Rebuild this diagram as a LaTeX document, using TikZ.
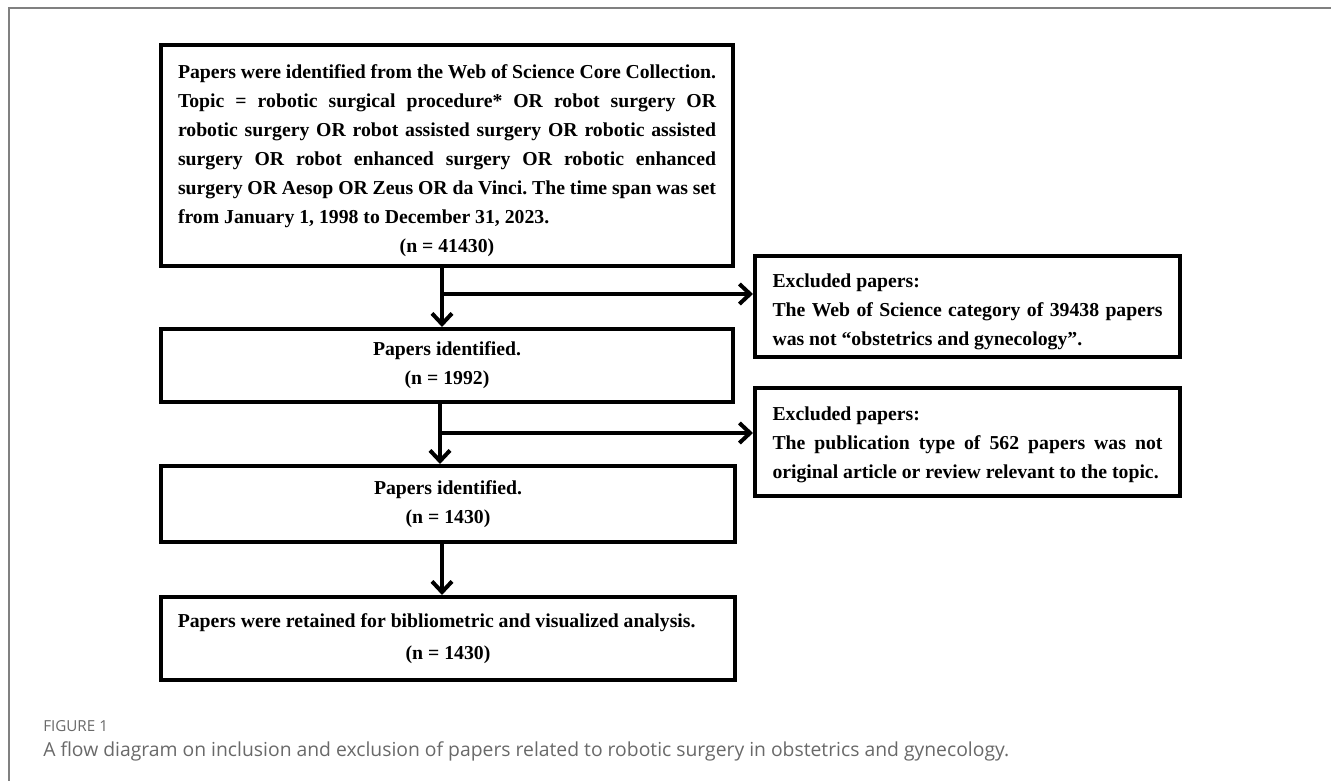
\documentclass[tikz,border=0pt]{standalone}
\usepackage{fontspec}
\setmainfont{Liberation Serif}
\newfontfamily\legende{Open Sans}
\usetikzlibrary{arrows.meta,calc}
\definecolor{cadre}{RGB}{128,128,128}
\definecolor{gristexte}{RGB}{105,105,105}
\frenchspacing

\begin{document}
\begin{tikzpicture}[x=0.75pt,y=-0.75pt,
	boite/.style={draw,line width=3pt,inner sep=0pt,font=\bfseries\fontsize{14.8}{21.75}\selectfont},
	fleche/.style={line width=3pt,-{Straight Barb[length=8pt,width=15pt]}}]
		\useasboundingbox (0,0) rectangle (1331,781);
		% cadre de la figure
		\draw[cadre,line width=1.5pt] (1331,8.5) -- (8.5,8.5) -- (8.5,781);
		% boites principales
		\node[boite,minimum width=429pt,minimum height=165.75pt,text width=403.5pt,align=justify] (search) at (447,155.5)
			{\rule{0pt}{18pt}Papers were identified from the Web of Science Core Collection.\linebreak
			Topic = robotic surgical procedure* OR robot surgery OR\linebreak
			robotic surgery OR robot assisted surgery OR robotic assisted\linebreak
			surgery OR robot enhanced surgery OR robotic enhanced\linebreak
			surgery OR Aesop OR Zeus OR da Vinci. The time span was set\linebreak
			from January 1, 1998 to December 31, 2023.\par
			\centerline{(n = 41430)}};
		\node[boite,minimum width=429pt,minimum height=54.75pt,align=center] (ident1) at (447,365.5)
			{Papers identified.\\(n = 1992)};
		\node[boite,minimum width=430.5pt,minimum height=57pt,align=center] (ident2) at (448,504)
			{Papers identified.\\(n = 1430)};
		\node[boite,minimum width=430.5pt,minimum height=62.25pt,align=center,font=\bfseries\fontsize{14.8}{24}\selectfont] (retained) at (448,638.5)
			{\hspace*{-17pt}Papers were retained for bibliometric and visualized analysis.\\(n = 1430)};
		% boites d'exclusion
		\node[boite,minimum width=318.75pt,minimum height=75.75pt,text width=292.5pt,align=justify] (excl1) at (967.5,306.5)
			{\rule{0pt}{18pt}Excluded papers:\par
			The Web of Science category of 39438 papers\linebreak
			was not “obstetrics and gynecology”.};
		\node[boite,minimum width=318.75pt,minimum height=81pt,text width=292.5pt,align=justify] (excl2) at (967.5,442)
			{\rule{0pt}{15pt}Excluded papers:\par
			The publication type of 562 papers was not\linebreak
			original article or review relevant to the topic.};
		% embranchements
		\coordinate (b1) at (442,294);
		\coordinate (b2) at (440,433);
		\coordinate (b3) at (442,570);
		\draw[fleche] (search.south -| b1) -- (ident1.north -| b1);
		\draw[fleche] (b1) -- (b1 -| excl1.west);
		\draw[fleche] (ident1.south -| b2) -- (ident2.north -| b2);
		\draw[fleche] (b2) -- (b2 -| excl2.west);
		\draw[fleche] (ident2.south -| b3) -- (retained.north -| b3);
		% legende
		\node[anchor=base west,inner sep=0pt,text=gristexte,font=\legende\fontsize{11.4}{13}\selectfont] (fig) at (43,731.5) {FIGURE 1};
		\node[anchor=base west,inner sep=0pt,text=gristexte,font=\legende\fontsize{14.5}{17}\selectfont] (cap) at (43,756) {A flow diagram on inclusion and exclusion of papers related to robotic surgery in obstetrics and gynecology.};
\end{tikzpicture}
\end{document}
